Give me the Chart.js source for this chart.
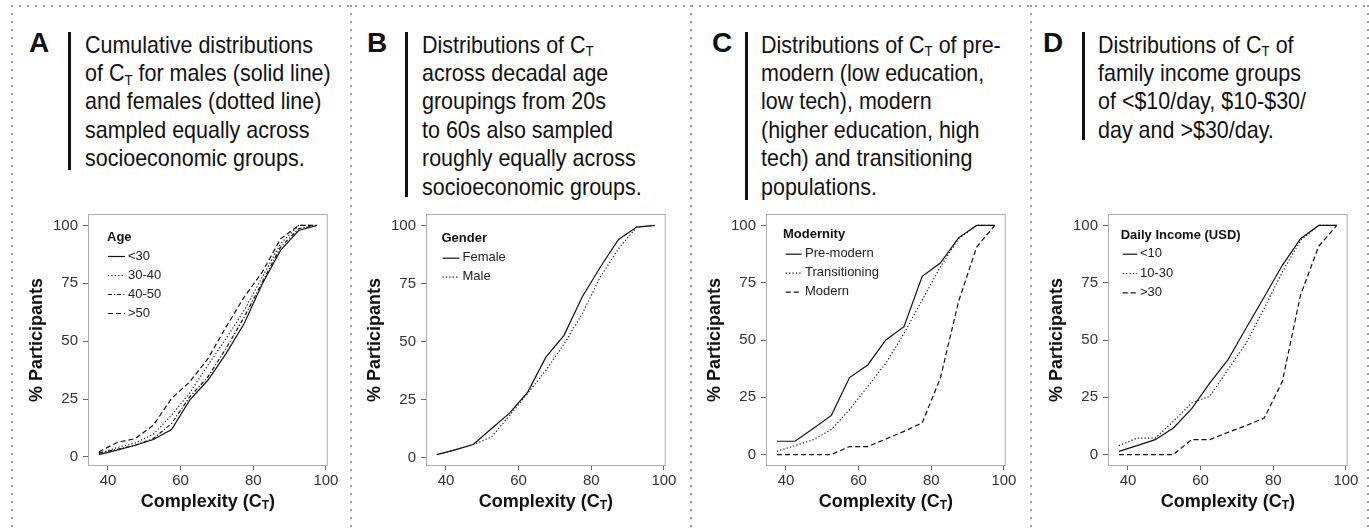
<!DOCTYPE html>
<html>
<head>
<meta charset="utf-8">
<script src="https://cdn.jsdelivr.net/npm/chart.js@4.4.1/dist/chart.umd.min.js"></script>
<style>
  html, body { margin:0; padding:0; background:#fff; }
  body { width:1369px; height:529px; overflow:hidden; position:relative; font-family:"Liberation Sans", Arial, sans-serif; color:#111; }
  .hdots { position:absolute; left:11px; top:5px; width:1358px; height:2px;
           background-image:linear-gradient(to right, #9a9a9a 2px, transparent 2px); background-size:8px 2px; }
  .vdots { position:absolute; top:5px; width:2px; height:524px;
           background-image:linear-gradient(to bottom, #9a9a9a 2px, transparent 2px); background-size:2px 8px; }
  .letter { position:absolute; top:29px; font-weight:bold; font-size:28px; line-height:28px; }
  .bar { position:absolute; top:32px; width:3px; background:#111; }
  .txt { position:absolute; top:30.5px; font-size:24px; line-height:28.4px; white-space:nowrap;
         transform:scaleX(0.895); transform-origin:0 0; }
  .s { font-size:0.62em; position:relative; top:3.7px; line-height:0; }
  canvas { position:absolute; top:200px; }
</style>
</head>
<body>
<div class="hdots"></div>
<div class="vdots" style="left:11px"></div>
<div class="vdots" style="left:350px"></div>
<div class="vdots" style="left:690px"></div>
<div class="vdots" style="left:1030px"></div>
<div class="vdots" style="left:1367px"></div>

<div class="letter" style="left:29px">A</div>
<div class="bar" style="left:68px;height:138px"></div>
<div class="txt" style="left:85px">Cumulative distributions<br>of C<span class="s">T</span> for males (solid line)<br>and females (dotted line)<br>sampled equally across<br>socioeconomic groups.</div>

<div class="letter" style="left:367px">B</div>
<div class="bar" style="left:405px;height:165px"></div>
<div class="txt" style="left:422px">Distributions of C<span class="s">T</span><br>across decadal age<br>groupings from 20s<br>to 60s also sampled<br>roughly equally across<br>socioeconomic groups.</div>

<div class="letter" style="left:712px">C</div>
<div class="bar" style="left:745px;height:168px"></div>
<div class="txt" style="left:761px">Distributions of C<span class="s">T</span> of pre-<br>modern (low education,<br>low tech), modern<br>(higher education, high<br>tech) and transitioning<br>populations.</div>

<div class="letter" style="left:1043px">D</div>
<div class="bar" style="left:1082px;height:108px"></div>
<div class="txt" style="left:1098px">Distributions of C<span class="s">T</span> of<br>family income groups<br>of &lt;$10/day, $10-$30/<br>day and &gt;$30/day.</div>

<canvas id="cA" width="329" height="329" style="left:11px"></canvas>
<canvas id="cB" width="329" height="329" style="left:349px"></canvas>
<canvas id="cC" width="329" height="329" style="left:689px"></canvas>
<canvas id="cD" width="329" height="329" style="left:1031px"></canvas>

<script>
// ---------- DATA ----------
const complexity = [37.5, 42.5, 47.5, 52.5, 57.5, 62.5, 67.5, 72.5, 77.5, 82.5, 87.5, 92.5, 97.5];
const xTickValues = [40, 60, 80, 100];
const yTickValues = [0, 25, 50, 75, 100];

// Panel A – Age
const ageLabels = ['<30', '30-40', '40-50', '>50'];
const ageUnder30 = [1.0, 2.9, 5.0, 7.5, 11.8, 24.5, 33.1, 44.6, 57.6, 74.8, 89.2, 97.8, 100];
const age30to40  = [1.4, 4.0, 6.0, 9.8, 18.0, 27.6, 39.6, 51.1, 63.3, 77.7, 92.1, 100, 100];
const age40to50  = [1.7, 3.2, 5.0, 7.9, 14.4, 25.9, 34.5, 46.8, 60.4, 75.5, 90.6, 98.6, 100];
const ageOver50  = [2.2, 6.2, 7.9, 13.7, 25.2, 32.4, 42.4, 56.1, 69.1, 79.9, 94.2, 100, 100];

// Panel B – Gender
const genderLabels = ['Female', 'Male'];
const genderFemale = [1.4, 3.4, 5.7, 12.5, 19.2, 28.3, 43.3, 52.7, 69.2, 82.1, 94.0, 99.3, 100];
const genderMale   = [1.4, 3.4, 5.7, 8.9, 18.2, 27.8, 37.6, 49.0, 62.0, 77.8, 90.0, 99.3, 100];

// Panel C – Modernity
const modernityLabels = ['Pre-modern', 'Transitioning', 'Modern'];
const preModern     = [5.8, 5.8, 11.4, 17.1, 33.6, 39.1, 50.0, 55.8, 77.8, 83.6, 94.6, 100, 100];
const transitioning = [1.4, 3.9, 6.5, 10.9, 19.6, 29.7, 39.9, 52.9, 67.4, 81.9, 94.2, 100, 100];
const modern        = [0, 0, 0, 0, 3.5, 3.5, 6.8, 10.1, 13.8, 33.3, 66.7, 90.6, 100];

// Panel D – Daily income
const incomeLabels = ['<10', '10-30', '>30'];
const incomeUnder10 = [1.4, 3.9, 6.5, 11.6, 19.9, 31.2, 41.3, 55.1, 68.8, 82.6, 94.2, 100, 100];
const income10to30  = [3.9, 7.2, 7.2, 14.5, 22.5, 25.4, 37.0, 48.6, 63.8, 79.7, 93.5, 100, 100];
const incomeOver30  = [0, 0, 0, 0, 6.5, 6.5, 9.7, 12.6, 15.9, 31.9, 69.6, 90.9, 100];

// ---------- STYLES ----------
const FONT = '"Liberation Sans", Arial, sans-serif';
const DASH = {
  solid: [],
  dotted: [1.2, 2.2],
  dotdash: [4, 2, 1.2, 2],
  dashed: [5, 3]
};

// plot frame (ggplot panel border)
const framePlugin = {
  id: 'frame',
  afterDatasetsDraw(chart) {
    const a = chart.chartArea, ctx = chart.ctx;
    ctx.save();
    ctx.strokeStyle = '#adadad';
    ctx.lineWidth = 1;
    ctx.strokeRect(a.left + 0.5, a.top + 0.5, a.right - a.left - 1, a.bottom - a.top - 1);
    ctx.restore();
  }
};

// x-axis title with subscript
const xTitlePlugin = {
  id: 'xTitle',
  afterDraw(chart) {
    const a = chart.chartArea, ctx = chart.ctx;
    const main = 'Complexity (C', sub = 'T', tail = ')';
    ctx.save();
    ctx.fillStyle = '#111';
    ctx.textBaseline = 'alphabetic';
    ctx.textAlign = 'left';
    const fMain = 'bold 18px ' + FONT, fSub = 'bold 12px ' + FONT;
    ctx.font = fMain; const w1 = ctx.measureText(main).width, w3 = ctx.measureText(tail).width;
    ctx.font = fSub; const w2 = ctx.measureText(sub).width;
    const total = w1 + w2 + w3;
    let x = (a.left + a.right) / 2 - total / 2;
    const y = a.bottom + 41;
    ctx.font = fMain; ctx.fillText(main, x, y); x += w1;
    ctx.font = fSub; ctx.fillText(sub, x, y + 2); x += w2;
    ctx.font = fMain; ctx.fillText(tail, x, y);
    ctx.restore();
  }
};

// inset legend (ggplot-style, inside the panel)
const insetLegendPlugin = {
  id: 'insetLegend',
  afterDatasetsDraw(chart, args, o) {
    if (!o || !o.title) return;
    const a = chart.chartArea, ctx = chart.ctx;
    ctx.save();
    ctx.textBaseline = 'middle';
    ctx.textAlign = 'left';
    ctx.fillStyle = '#111';
    ctx.font = 'bold 13px ' + FONT;
    ctx.fillText(o.title, a.left + o.titleX, a.top + o.titleY);
    ctx.font = '13px ' + FONT;
    chart.data.datasets.forEach((ds, i) => {
      const y = a.top + o.rowY + i * o.rowGap;
      ctx.strokeStyle = ds.borderColor;
      ctx.lineWidth = ds.borderWidth;
      ctx.setLineDash(ds.borderDash || []);
      ctx.beginPath();
      ctx.moveTo(a.left + o.lineX0, y + 0.5);
      ctx.lineTo(a.left + o.lineX1, y + 0.5);
      ctx.stroke();
      ctx.setLineDash([]);
      ctx.fillStyle = '#222';
      ctx.fillText(ds.label, a.left + o.textX, y);
    });
    ctx.restore();
  }
};

function series(label, values, dash) {
  return {
    label,
    data: complexity.map((x, i) => ({ x, y: values[i] })),
    borderColor: '#111',
    borderWidth: 1.2,
    borderDash: dash,
    pointRadius: 0,
    tension: 0,
    fill: false
  };
}

function makeChart(id, datasets, yMin, yMax, legend) {
  return new Chart(document.getElementById(id), {
    type: 'line',
    data: { datasets },
    plugins: [framePlugin, xTitlePlugin, insetLegendPlugin],
    options: {
      responsive: false,
      animation: false,
      events: [],
      layout: { padding: { left: 0, right: 10, top: 13, bottom: 0 } },
      plugins: {
        legend: { display: false },
        tooltip: { enabled: false },
        insetLegend: legend
      },
      scales: {
        x: {
          type: 'linear',
          min: 34.5, max: 100.5,
          afterBuildTicks: s => { s.ticks = xTickValues.map(v => ({ value: v })); },
          afterFit: s => { s.height = 63; },
          border: { display: false },
          grid: { drawOnChartArea: false, drawTicks: true, tickLength: 4, color: '#666', lineWidth: 1 },
          ticks: { padding: 1.5, color: '#333', font: { family: FONT, size: 15 }, maxRotation: 0, autoSkip: false },
          title: { display: false }
        },
        y: {
          type: 'linear',
          min: yMin, max: yMax,
          afterBuildTicks: s => { s.ticks = yTickValues.map(v => ({ value: v })); },
          afterFit: s => { s.width = 77; },
          border: { display: false },
          grid: { drawOnChartArea: false, drawTicks: true, tickLength: 5, color: '#666', lineWidth: 1 },
          ticks: { padding: 5, color: '#333', font: { family: FONT, size: 15 } },
          title: {
            display: true, text: '% Participants', color: '#111',
            font: { family: FONT, size: 18, weight: 'bold' },
            padding: { top: 15, bottom: 0 }
          }
        }
      }
    }
  });
}

makeChart('cA', [
  series(ageLabels[0], ageUnder30, DASH.solid),
  series(ageLabels[1], age30to40, DASH.dotted),
  series(ageLabels[2], age40to50, DASH.dotdash),
  series(ageLabels[3], ageOver50, DASH.dashed)
], -3.95, 104.95, { title: 'Age', titleX: 19, titleY: 23.7, rowY: 42, rowGap: 19, lineX0: 20, lineX1: 37, textX: 40 });

makeChart('cB', [
  series(genderLabels[0], genderFemale, DASH.solid),
  series(genderLabels[1], genderMale, DASH.dotted)
], -3.53, 104.93, { title: 'Gender', titleX: 15.5, titleY: 24.7, rowY: 43.7, rowGap: 19, lineX0: 16.5, lineX1: 33.5, textX: 36.5 });

makeChart('cC', [
  series(modernityLabels[0], preModern, DASH.solid),
  series(modernityLabels[1], transitioning, DASH.dotted),
  series(modernityLabels[2], modern, DASH.dashed)
], -5, 105, { title: 'Modernity', titleX: 17, titleY: 20, rowY: 39.7, rowGap: 19, lineX0: 19.7, lineX1: 35.7, textX: 39 });

makeChart('cD', [
  series(incomeLabels[0], incomeUnder10, DASH.solid),
  series(incomeLabels[1], income10to30, DASH.dotted),
  series(incomeLabels[2], incomeOver30, DASH.dashed)
], -5, 105, { title: 'Daily Income (USD)', titleX: 12.7, titleY: 21, rowY: 39.7, rowGap: 19.3, lineX0: 14.7, lineX1: 29.3, textX: 32 });
</script>
</body>
</html>
